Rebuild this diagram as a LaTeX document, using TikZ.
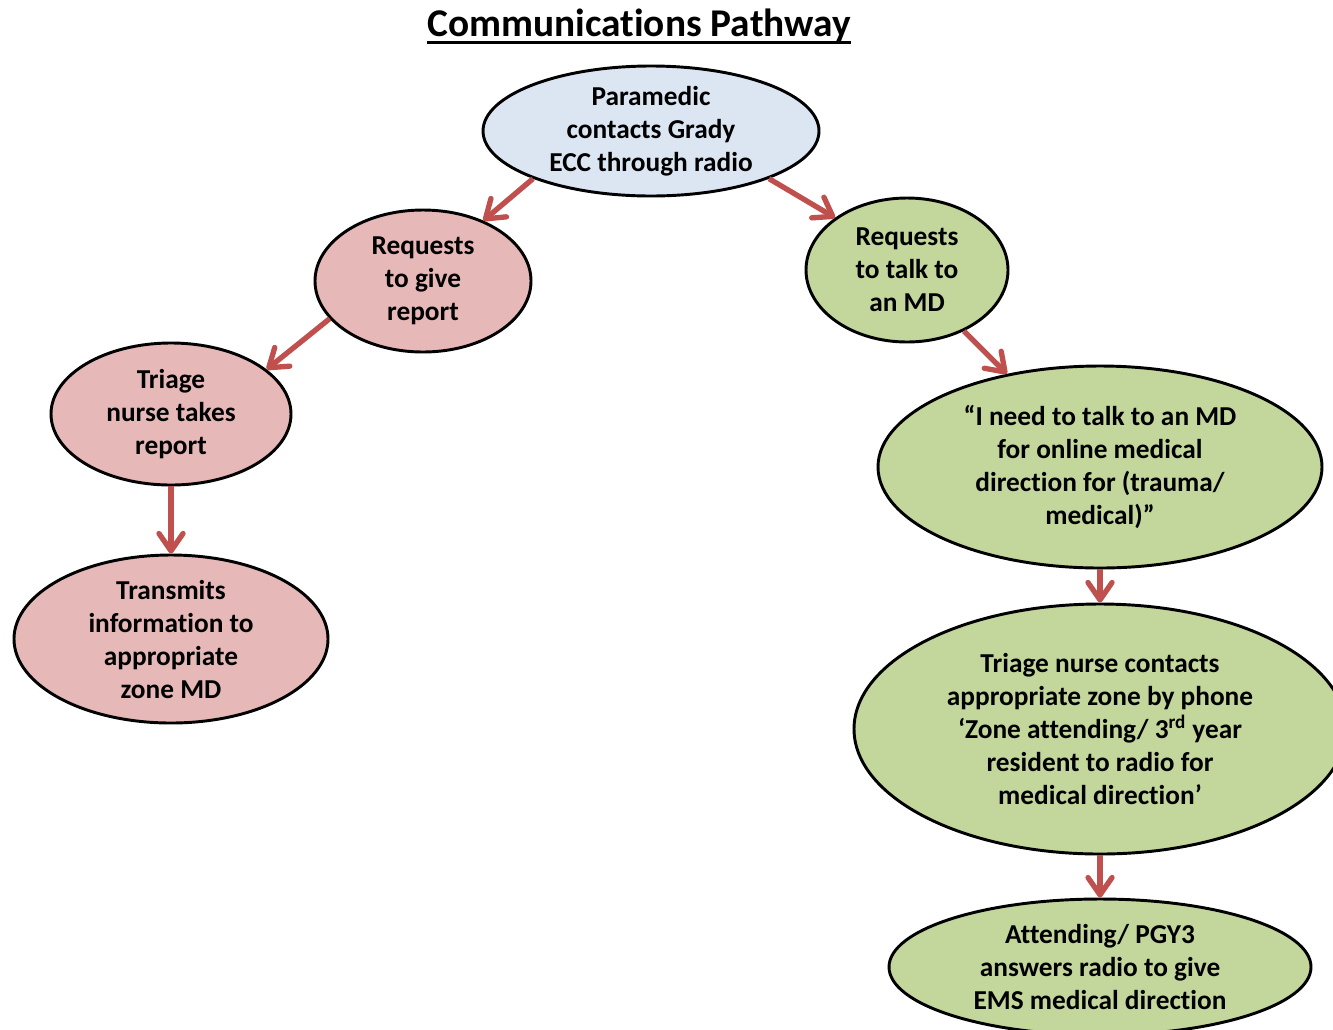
\documentclass[tikz,border=0pt]{standalone}
\usepackage{fontspec}
\setmainfont{Carlito}[Ligatures=NoCommon]
\usepackage{xcolor}
\usetikzlibrary{arrows.meta,shapes.geometric}
\definecolor{paraBlue}{HTML}{DCE6F2}
\definecolor{reportPink}{HTML}{E6B9B8}
\definecolor{mdGreen}{HTML}{C3D69B}
\definecolor{arrowRed}{HTML}{C0504D}

\begin{document}
\begin{tikzpicture}[x=0.75pt, y=-0.75pt,
		font=\bfseries\fontsize{20.5}{24.75}\selectfont,
		bubble/.style={ellipse, draw=black, line width=2.2pt, inner sep=0pt, align=center},
		flow/.style={-{Straight Barb[length=13pt,width=18pt,round]}, arrowRed, line width=4pt}]
		\useasboundingbox (0,0) rectangle (1333,1029);
		
		% Title
		\node[inner sep=0pt, font=\bfseries\fontsize{29.5}{34}\selectfont] (title) at (639,26) {Communications Pathway};
		\draw[line width=2.2pt] ([yshift=-4pt]title.base west) -- ([yshift=-4pt]title.base east);
		
		% Start
		\node[bubble, fill=paraBlue, minimum width=252pt, minimum height=97.5pt] (para) at (651,131)
			{Paramedic\\contacts Grady\\ECC through radio};
		
		% Report branch
		\node[bubble, fill=reportPink, minimum width=162pt, minimum height=106.5pt] (give) at (423,281)
			{Requests\\to give\\report};
		\node[bubble, fill=reportPink, minimum width=180pt, minimum height=106.5pt] (triage) at (171,414)
			{Triage\\nurse takes\\report};
		\node[bubble, fill=reportPink, minimum width=235.5pt, minimum height=126pt] (transmit) at (171,639)
			{Transmits\\information to\\appropriate\\zone MD};
		
		% MD branch
		\node[bubble, fill=mdGreen, minimum width=151.5pt, minimum height=108pt] (askmd) at (907,270)
			{Requests\\to talk to\\an MD};
		\node[bubble, fill=mdGreen, minimum width=333pt, minimum height=151.5pt] (needmd) at (1100,467)
			{“I need to talk to an MD\\for online medical\\direction for (trauma/\\medical)”};
		\node[bubble, fill=mdGreen, minimum width=369pt, minimum height=187.5pt] (contacts) at (1100,729)
			{Triage nurse contacts\\appropriate zone by phone\\‘Zone attending/ 3\textsuperscript{rd} year\\resident to radio for\\medical direction’};
		\node[bubble, fill=mdGreen, minimum width=316.5pt, minimum height=102pt] (attend) at (1100,967)
			{Attending/ PGY3\\answers radio to give\\EMS medical direction};
		
		% Arrows
		\draw[flow] (para.202) -- (give.45);
		\draw[flow] (para.338) -- (askmd.144);
		\draw[flow] (give.202) -- (triage.25);
		\draw[flow] (triage.south) -- (transmit.north);
		\draw[flow] (askmd.313) -- (needmd.135);
		\draw[flow] (needmd.south) -- (contacts.north);
		\draw[flow] (contacts.south) -- (attend.north);
	\end{tikzpicture}
\end{document}
